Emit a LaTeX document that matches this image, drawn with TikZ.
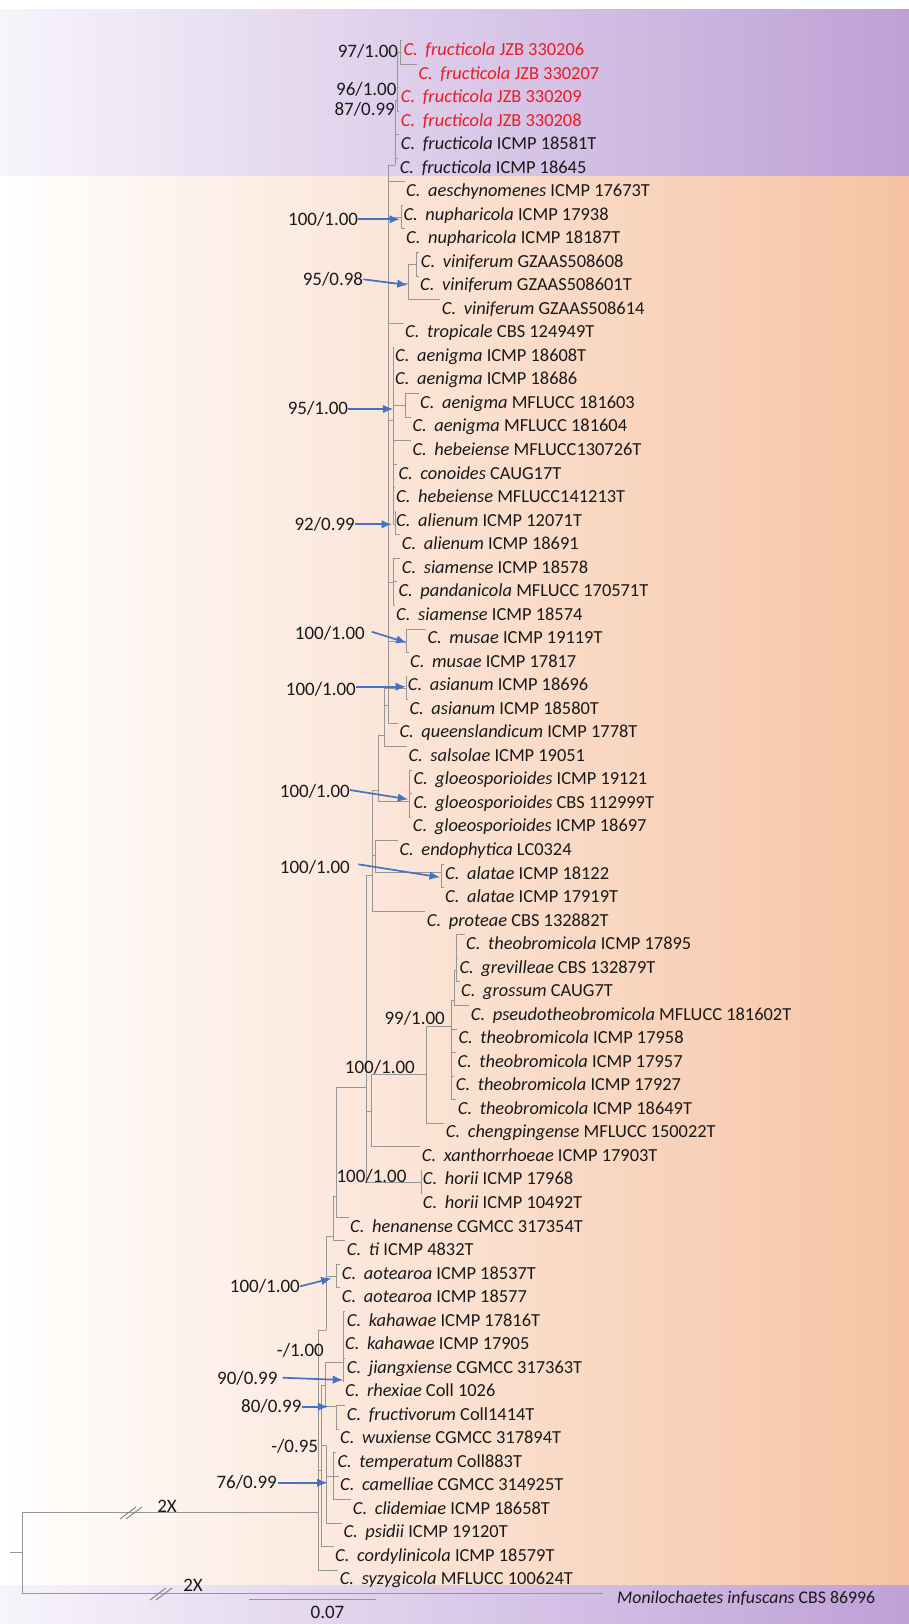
\documentclass[tikz,border=0pt]{standalone}
\usepackage{fontspec}
\setmainfont{Carlito}
\usetikzlibrary{arrows.meta,calc}
\definecolor{purpR}{RGB}{190,160,214}
\definecolor{purpL}{RGB}{247,244,251}
\definecolor{peachR}{RGB}{246,195,163}
\definecolor{brc}{RGB}{150,150,150}
\definecolor{arrc}{RGB}{68,114,196}
\definecolor{redlab}{RGB}{232,28,36}
\definecolor{txt}{RGB}{25,25,25}
\newcommand\cs[2]{\textit{C.\hspace{0.42em}#1} #2}
\newcommand\leaf[4]{%
  \pgfmathsetmacro\yy{49.7+23.53*(#2-1)}%
  \node[lab,#3,anchor=base west] (L#2) at (#1,\yy+5.8) {#4};%
  \coordinate (T#2) at (#1-1.5,\yy-9);%
}
\newcommand\kids[2]{\foreach \c in {#2}{\draw[br] (#1) |- (\c);}}
\begin{document}
\begin{tikzpicture}[x=1pt,y=-1pt,
  lab/.style={font=\fontsize{18.4}{20}\selectfont,inner sep=0pt,text=txt},
  sup/.style={font=\fontsize{19}{21}\selectfont,inner sep=0pt,text=txt},
  br/.style={draw=brc,line width=0.9pt},
  arr/.style={draw=arrc,line width=1.7pt,-{Latex[length=10.5pt,width=8.5pt]}}]
\useasboundingbox (0,0) rectangle (909,1624);
\fill[white] (0,0) rectangle (909,1624);
\shade[left color=purpL,right color=purpR] (0,10) rectangle (909,177);
\shade[left color=white,right color=peachR] (0,177) rectangle (909,1585.7);
\shade[left color=purpL,right color=purpR] (0,1585.7) rectangle (909,1624);

% leaves
\leaf{403.3}{1}{redlab}{\cs{fructicola}{JZB 330206}}
\leaf{418.3}{2}{redlab}{\cs{fructicola}{JZB 330207}}
\leaf{400.7}{3}{redlab}{\cs{fructicola}{JZB 330209}}
\leaf{400.7}{4}{redlab}{\cs{fructicola}{JZB 330208}}
\leaf{400.7}{5}{txt}{\cs{fructicola}{ICMP 18581T}}
\leaf{399.6}{6}{txt}{\cs{fructicola}{ICMP 18645}}
\leaf{406}{7}{txt}{\cs{aeschynomenes}{ICMP 17673T}}
\leaf{403.3}{8}{txt}{\cs{nupharicola}{ICMP 17938}}
\leaf{406}{9}{txt}{\cs{nupharicola}{ICMP 18187T}}
\leaf{420.7}{10}{txt}{\cs{viniferum}{GZAAS508608}}
\leaf{420}{11}{txt}{\cs{viniferum}{GZAAS508601T}}
\leaf{441.7}{12}{txt}{\cs{viniferum}{GZAAS508614}}
\leaf{405}{13}{txt}{\cs{tropicale}{CBS 124949T}}
\leaf{395}{14}{txt}{\cs{aenigma}{ICMP 18608T}}
\leaf{395}{15}{txt}{\cs{aenigma}{ICMP 18686}}
\leaf{420}{16}{txt}{\cs{aenigma}{MFLUCC 181603}}
\leaf{412.3}{17}{txt}{\cs{aenigma}{MFLUCC 181604}}
\leaf{412.3}{18}{txt}{\cs{hebeiense}{MFLUCC130726T}}
\leaf{398.3}{19}{txt}{\cs{conoides}{CAUG17T}}
\leaf{396}{20}{txt}{\cs{hebeiense}{MFLUCC141213T}}
\leaf{396}{21}{txt}{\cs{alienum}{ICMP 12071T}}
\leaf{401.7}{22}{txt}{\cs{alienum}{ICMP 18691}}
\leaf{401.7}{23}{txt}{\cs{siamense}{ICMP 18578}}
\leaf{398.3}{24}{txt}{\cs{pandanicola}{MFLUCC 170571T}}
\leaf{396}{25}{txt}{\cs{siamense}{ICMP 18574}}
\leaf{427.3}{26}{txt}{\cs{musae}{ICMP 19119T}}
\leaf{410}{27}{txt}{\cs{musae}{ICMP 17817}}
\leaf{407.7}{28}{txt}{\cs{asianum}{ICMP 18696}}
\leaf{409.3}{29}{txt}{\cs{asianum}{ICMP 18580T}}
\leaf{399.3}{30}{txt}{\cs{queenslandicum}{ICMP 1778T}}
\leaf{408.3}{31}{txt}{\cs{salsolae}{ICMP 19051}}
\leaf{413.3}{32}{txt}{\cs{gloeosporioides}{ICMP 19121}}
\leaf{413.3}{33}{txt}{\cs{gloeosporioides}{CBS 112999T}}
\leaf{412.7}{34}{txt}{\cs{gloeosporioides}{ICMP 18697}}
\leaf{399.3}{35}{txt}{\cs{endophytica}{LC0324}}
\leaf{445}{36}{txt}{\cs{alatae}{ICMP 18122}}
\leaf{445}{37}{txt}{\cs{alatae}{ICMP 17919T}}
\leaf{426.7}{38}{txt}{\cs{proteae}{CBS 132882T}}
\leaf{466}{39}{txt}{\cs{theobromicola}{ICMP 17895}}
\leaf{459.3}{40}{txt}{\cs{grevilleae}{CBS 132879T}}
\leaf{461}{41}{txt}{\cs{grossum}{CAUG7T}}
\leaf{470.7}{42}{txt}{\cs{pseudotheobromicola}{MFLUCC 181602T}}
\leaf{458.3}{43}{txt}{\cs{theobromicola}{ICMP 17958}}
\leaf{457.3}{44}{txt}{\cs{theobromicola}{ICMP 17957}}
\leaf{455.7}{45}{txt}{\cs{theobromicola}{ICMP 17927}}
\leaf{457.7}{46}{txt}{\cs{theobromicola}{ICMP 18649T}}
\leaf{445.7}{47}{txt}{\cs{chengpingense}{MFLUCC 150022T}}
\leaf{421.7}{48}{txt}{\cs{xanthorrhoeae}{ICMP 17903T}}
\leaf{422.7}{49}{txt}{\cs{horii}{ICMP 17968}}
\leaf{422.7}{50}{txt}{\cs{horii}{ICMP 10492T}}
\leaf{350}{51}{txt}{\cs{henanense}{CGMCC 317354T}}
\leaf{346.7}{52}{txt}{\cs{ti}{ICMP 4832T}}
\leaf{341.7}{53}{txt}{\cs{aotearoa}{ICMP 18537T}}
\leaf{341.7}{54}{txt}{\cs{aotearoa}{ICMP 18577}}
\leaf{346.7}{55}{txt}{\cs{kahawae}{ICMP 17816T}}
\leaf{345}{56}{txt}{\cs{kahawae}{ICMP 17905}}
\leaf{346.7}{57}{txt}{\cs{jiangxiense}{CGMCC 317363T}}
\leaf{345}{58}{txt}{\cs{rhexiae}{Coll 1026}}
\leaf{346.7}{59}{txt}{\cs{fructivorum}{Coll1414T}}
\leaf{340}{60}{txt}{\cs{wuxiense}{CGMCC 317894T}}
\leaf{337.3}{61}{txt}{\cs{temperatum}{Coll883T}}
\leaf{340}{62}{txt}{\cs{camelliae}{CGMCC 314925T}}
\leaf{352.7}{63}{txt}{\cs{clidemiae}{ICMP 18658T}}
\leaf{343.3}{64}{txt}{\cs{psidii}{ICMP 19120T}}
\leaf{335}{65}{txt}{\cs{cordylinicola}{ICMP 18579T}}
\leaf{339.6}{66}{txt}{\cs{syzygicola}{MFLUCC 100624T}}
\node[lab,font=\fontsize{17.8}{20}\selectfont,anchor=base west] (L67) at (617,1603.7) {\textit{Monilochaetes infuscans} CBS 86996};
\coordinate (T67) at (603,1593.3);

% internal nodes
\coordinate (N97) at (400.5,52);
\coordinate (N96) at (397.5,100);
\coordinate (N87) at (395,165);
\coordinate (M1) at (388.5,705);
\coordinate (Nnu) at (401.5,217);
\coordinate (Nvi) at (408.3,283);
\coordinate (Nvi2) at (416,264);
\coordinate (Nae) at (393.5,420);
\coordinate (NaeM) at (405.7,405);
\coordinate (Nal) at (395.5,524);
\coordinate (Nsi) at (393.3,582);
\coordinate (Nmu) at (406.7,641);
\coordinate (M2) at (384.5,735);
\coordinate (Nas) at (406.7,688);
\coordinate (M3) at (378.3,790);
\coordinate (Ngl) at (409.3,801.7);
\coordinate (NEA) at (375.5,855);
\coordinate (Nala) at (441.7,872);
\coordinate (M4) at (372.5,875);
\coordinate (M5) at (366.7,1087.7);
\coordinate (M6) at (371.7,1111.7);
\coordinate (Nth) at (426.7,1074.3);
\coordinate (N99) at (451.7,1026.7);
\coordinate (Nb) at (454,1000);
\coordinate (Na) at (456.7,970);
\coordinate (Nho) at (421.7,1182.7);
\coordinate (M7) at (336,1196.7);
\coordinate (M8) at (333.3,1236.7);
\coordinate (M9) at (326,1330);
\coordinate (Nao) at (336.7,1276);
\coordinate (Nka) at (343.3,1362);
\coordinate (N80) at (336.5,1406.7);
\coordinate (P1) at (325,1385);
\coordinate (Ntc) at (333.3,1476);
\coordinate (Nca) at (326.7,1445);
\coordinate (P2) at (321,1470);
\coordinate (R) at (318,1512.7);
\coordinate (Root) at (22,1552.7);
\coordinate (Rst) at (10.4,1552.7);

% branches
\kids{N97}{T1,T2}
\kids{N96}{N97,T3,T4}
\kids{N87}{N96,T5,T6}
\kids{M1}{N87,T7,Nnu,Nvi,T13,Nae,Nsi,Nmu,T30}
\kids{Nnu}{T8,T9}
\kids{Nvi}{Nvi2,T12}
\kids{Nvi2}{T10,T11}
\kids{Nae}{T14,T15,NaeM,T18,T19,T20,Nal}
\kids{NaeM}{T16,T17}
\kids{Nal}{T21,T22}
\kids{Nsi}{T23,T24,T25}
\kids{Nmu}{T26,T27}
\kids{M2}{Nas,M1,T31}
\kids{Nas}{T28,T29}
\kids{M3}{M2,Ngl}
\kids{Ngl}{T32,T33,T34}
\kids{NEA}{T35,Nala}
\kids{Nala}{T36,T37}
\kids{M4}{M3,NEA,T38}
\kids{M5}{M4,M6,Nho}
\kids{M6}{Nth,T48}
\kids{Nth}{N99,T47}
\kids{N99}{Nb,T43,T44,T45,T46}
\kids{Nb}{Na,T42}
\kids{Na}{T39,T40,T41}
\kids{Nho}{T49,T50}
\kids{M7}{M5,T51}
\kids{M8}{M7,T52}
\kids{M9}{M8,Nao}
\kids{Nao}{T53,T54}
\kids{Nka}{T55,T56,T57,T58}
\kids{N80}{T59,T60}
\kids{P1}{Nka,N80}
\kids{Ntc}{T61,T62,T63}
\kids{Nca}{Ntc,T64}
\kids{P2}{P1,Nca,T65}
\kids{R}{M9,P2,T66}
\kids{Root}{R,T67}
\draw[br] (Rst) -- (Root);

% break marks
\draw[br,draw=gray] (120,1519) -- (136,1507) (126,1519) -- (142,1507);
\draw[br,draw=gray] (150,1600) -- (166,1588) (156,1600) -- (172,1588);
\node[sup] (x2a) at (167,1506) {2X};
\node[sup] (x2b) at (193,1585) {2X};

% scale bar
\coordinate (sb1) at (249,1599);
\coordinate (sb2) at (375.7,1599);
\draw[br] (sb1) -- (sb2);
\node[sup] (sbl) at (327.5,1612) {0.07};

% support values
\node[sup,anchor=base east] (s97) at (398.3,57.5) {97/1.00};
\node[sup,anchor=base east] (s96) at (396.7,95.8) {96/1.00};
\node[sup,anchor=base east] (s87) at (395,115.8) {87/0.99};
\node[sup,anchor=base east] (s1) at (358.3,225.1) {100/1.00};
\node[sup,anchor=base east] (s2) at (363.3,285.1) {95/0.98};
\node[sup,anchor=base east] (s3) at (348.3,414.1) {95/1.00};
\node[sup,anchor=base east] (s4) at (355,530.1) {92/0.99};
\node[sup,anchor=base east] (s5) at (365,639.1) {100/1.00};
\node[sup,anchor=base east] (s6) at (356,695.1) {100/1.00};
\node[sup,anchor=base east] (s7) at (350,797.5) {100/1.00};
\node[sup,anchor=base east] (s8) at (350,873.1) {100/1.00};
\node[sup,anchor=base east] (s99) at (445,1024.1) {99/1.00};
\node[sup,anchor=base east] (s100t) at (415,1073.5) {100/1.00};
\node[sup,anchor=base east] (sho) at (406.7,1182.5) {100/1.00};
\node[sup,anchor=base east] (s9) at (300,1292.5) {100/1.00};
\node[sup,anchor=base east] (sm1) at (324,1356.5) {-/1.00};
\node[sup,anchor=base east] (s10) at (277.7,1384.1) {90/0.99};
\node[sup,anchor=base east] (s11) at (301.7,1412.5) {80/0.99};
\node[sup,anchor=base east] (sm2) at (318.3,1452.5) {-/0.95};
\node[sup,anchor=base east] (s12) at (277,1488.5) {76/0.99};

% arrow targets
\coordinate (a1) at (400,219.3);
\coordinate (a2) at (407.7,285);
\coordinate (a3) at (393.3,409);
\coordinate (a4) at (392,524.3);
\coordinate (a5) at (406.7,642.7);
\coordinate (a6) at (406,686.7);
\coordinate (a7) at (408.3,799.3);
\coordinate (a8) at (440,877.3);
\coordinate (a9) at (331.7,1278.3);
\coordinate (a10) at (343.3,1380);
\coordinate (a11) at (328.3,1406.7);
\coordinate (a12) at (327.5,1482.7);

\draw[arr] (s1.east |- a1) -- (a1);
\draw[arr] ([yshift=5.8]s2.base east) -- (a2);
\draw[arr] (s3.east |- a3) -- (a3);
\draw[arr] ([yshift=5.8]s4.base east) -- (a4);
\draw[arr] ([xshift=6.7,yshift=7.4]s5.base east) -- (a5);
\draw[arr] (s6.east |- a6) -- (a6);
\draw[arr] ([yshift=7.5]s7.base east) -- (a7);
\draw[arr] ([xshift=8.3,yshift=8.8]s8.base east) -- (a8);
\draw[arr] ([yshift=6.1]s9.base east) -- (a9);
\draw[arr] ([xshift=5,yshift=6.4]s10.base east) -- (a10);
\draw[arr] (s11.east |- a11) -- (a11);
\draw[arr] ([xshift=0.5]s12.east |- a12) -- (a12);
\end{tikzpicture}
\end{document}
